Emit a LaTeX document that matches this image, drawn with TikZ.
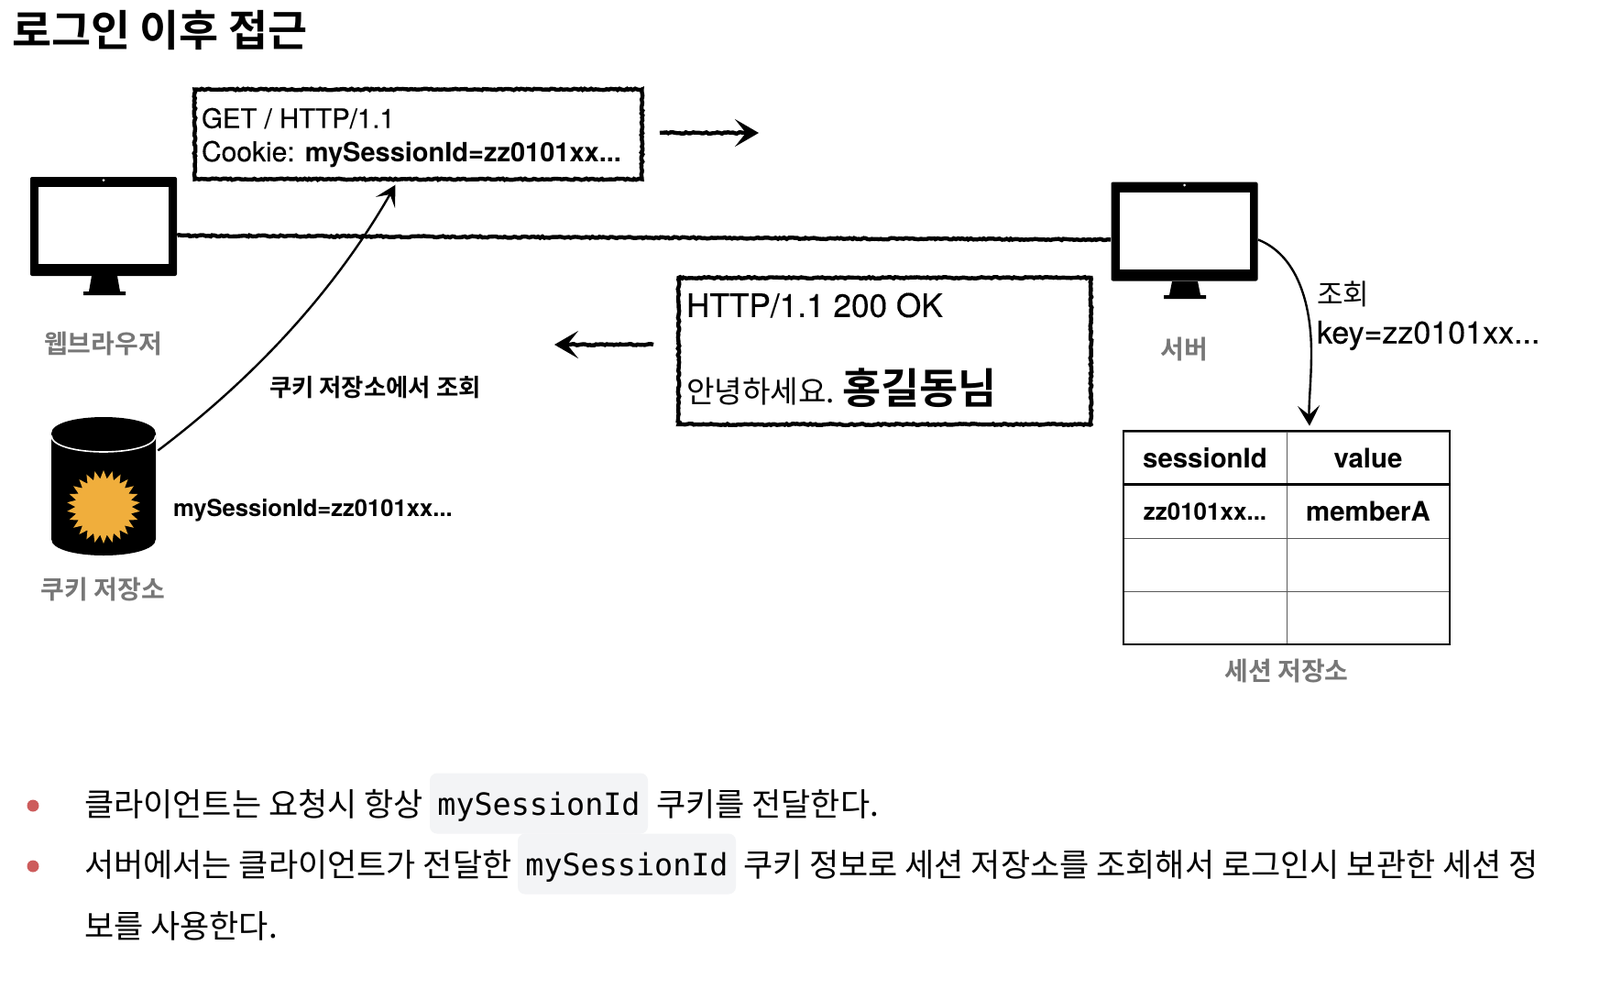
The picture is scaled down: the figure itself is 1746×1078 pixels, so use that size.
\documentclass[tikz,border=0pt]{standalone}
\usepackage{fontspec}
\usetikzlibrary{arrows.meta,decorations.pathmorphing,shapes.geometric}
\setmainfont{TeX Gyre Heros}
\newfontfamily\med[FakeBold=0.3]{TeX Gyre Heros}
\newfontfamily\kr{Noto Sans CJK KR}
\newfontfamily\krb{Noto Sans CJK KR Bold}
\newfontfamily\codefont{DejaVu Sans Mono}
\definecolor{chip}{HTML}{F3F4F6}
\definecolor{caption}{HTML}{777777}
\definecolor{bullet}{HTML}{CD5C5C}
\definecolor{burst}{HTML}{F0AE3C}
\newcommand{\fs}[1]{\fontsize{#1}{#1}\selectfont}
\tikzset{
  txt/.style={inner sep=0pt,outer sep=0pt,anchor=west,text=black},
  captxt/.style={inner sep=0pt,text=caption,font=\krb\fs{14}},
  rough/.style={decorate,decoration={random steps,segment length=1.2pt,amplitude=.4pt}},
  sketchbox/.style={draw=black,line width=2.2pt,rough,inner sep=0pt,fill=white},
  sketchline/.style={line width=2.2pt,rough},
  thinarrow/.style={line width=1.2pt,-{Stealth[length=11pt,width=12pt,inset=5pt]}},
  fatarrow/.style={line width=2.2pt,decorate,decoration={random steps,segment length=1.2pt,amplitude=.4pt,post length=8pt},-{Stealth[length=13pt,width=15pt,inset=6pt]}},
  monitor/.style={fill=black,rounded corners=1pt,minimum width=80pt,minimum height=54pt,inner sep=0pt},
  screen/.style={fill=white,minimum width=71pt,minimum height=42pt,inner sep=0pt},
  cell/.style={draw=black!65,line width=.5pt,minimum width=89pt,minimum height=29pt,inner sep=0pt,font=\bfseries\fs{14.7}},
  chipbox/.style={fill=chip,rounded corners=4pt,minimum width=119pt,minimum height=33pt,inner sep=0pt},
  bulletdot/.style={circle,fill=bullet,minimum size=6.5pt,inner sep=0pt},
  bodytxt/.style={txt,font=\kr\fs{17.5}},
  codetxt/.style={inner sep=0pt,font=\codefont\fs{16.7}},
}
\begin{document}
\begin{tikzpicture}[x=0.5pt,y=-0.5pt]
\useasboundingbox[fill=white] (0,0) rectangle (1746,1078);

\node[txt,font=\krb\fs{23.4}] (title) at (13,33) {로그인 이후 접근};

% client monitor
\node[monitor] (client) at (113,247) {};
\node[screen] (clientscreen) at (113,246) {};
\fill[white] (113,196.5) circle (1.5);
\fill (100,301) -- (128,301) -- (131,318) -- (137,318) -- (137,322) -- (91,322) -- (91,318) -- (97,318) -- cycle;
\node[captxt] (clientcap) at (112.5,375) {웹브라우저};

% server monitor
\node[monitor] (server) at (1292.5,252.5) {};
\node[screen] (serverscreen) at (1292.5,252) {};
\fill[white] (1292.5,202) circle (1.5);
\fill (1279,307) -- (1307,307) -- (1310,322) -- (1316,322) -- (1316,326) -- (1270,326) -- (1270,322) -- (1276,322) -- cycle;
\node[captxt] (servercap) at (1292,381) {서버};

% connection
\draw[sketchline] ([yshift=-5pt]client.east) -- ([yshift=-4.5pt]server.west);

% request
\node[sketchbox,minimum width=244pt,minimum height=49pt] (req) at (456.5,146.5) {};
\node[txt,font=\med\fs{14.7}] (req1) at (220,129) {GET / HTTP/1.1};
\node[txt,font=\med\fs{15}] (req2) at (220,168) {Cookie: {\normalfont\bfseries\fs{14.5}mySessionId=zz0101xx...}};
\coordinate (reqfrom) at (720,145);
\coordinate (reqto) at (828,145);
\draw[fatarrow] (reqfrom) -- (reqto);

% response
\node[sketchbox,minimum width=225pt,minimum height=80pt] (res) at (965.5,383) {};
\node[txt,font=\med\fs{17.6}] (res1) at (749,333) {HTTP/1.1 200 OK};
\node[txt,font=\kr\fs{16.6}] (res2) at (749,427) {안녕하세요.};
\node[txt,font=\krb\fs{22.9}] (res3) at (919,423) {홍길동님};
\coordinate (resfrom) at (713,376);
\coordinate (resto) at (605,376);
\draw[fatarrow] (resfrom) -- (resto);

% cookie store
\node[minimum width=57pt,minimum height=76.5pt,inner sep=0pt] (store) at (113,530.5) {};
\fill (56,473) .. controls (56,449) and (170,449) .. (170,473) -- (170,588) .. controls (170,612) and (56,612) .. (56,588) -- cycle;
\draw[white,line width=.8pt] (56,475) .. controls (56,499) and (170,499) .. (170,475);
\node[star,star points=26,star point ratio=1.3,fill=burst,minimum size=40pt,inner sep=0pt] (sun) at (113,553) {};
\node[captxt] (storecap) at (112.5,643) {쿠키 저장소};
\node[txt,font=\bfseries\fs{12.8}] (cookieval) at (189,557) {mySessionId=zz0101xx...};
\node[txt,font=\krb\fs{13.2}] (lookup) at (294,423) {쿠키 저장소에서 조회};
\draw[thinarrow] ([xshift=1pt,yshift=19.5pt]store.east) .. controls (300,395) and (378,295) .. ([xshift=-12.5pt,yshift=-2pt]req.south);

% session table
\node[cell] (h1) at (1315,500) {sessionId};
\node[cell] (h2) at (1493,500) {value};
\node[cell,font=\bfseries\fs{13}] (a1) at (1315,558) {zz0101xx...};
\node[cell] (a2) at (1493,558) {memberA};
\node[cell] (b1) at (1315,616) {};
\node[cell] (b2) at (1493,616) {};
\node[cell] (c1) at (1315,674) {};
\node[cell] (c2) at (1493,674) {};
\node[draw=black,line width=1.4pt,minimum width=178pt,minimum height=116.5pt,inner sep=0pt] (table) at (1404,586.5) {};
\draw[line width=1.2pt] ([yshift=.5pt]h1.south west) -- ([yshift=.5pt]h2.south east);
\node[captxt] (tablecap) at (1404,732) {세션 저장소};
\draw[thinarrow] ([yshift=-4.5pt]server.east) .. controls (1415,278) and (1431,330) .. (1431,385) .. controls (1431,415) and (1428,440) .. ([xshift=12.5pt,yshift=2pt]table.north);
\node[txt,font=\kr\fs{15.5}] (q1) at (1437,321) {조회};
\node[txt,font=\med\fs{17}] (q2) at (1437,366) {key=zz0101xx...};

% bullet list
\node[bulletdot] (d1) at (36,879) {};
\node[bulletdot] (d2) at (36,945) {};
\node[chipbox] (chip1) at (588,876.5) {};
\node[chipbox] (chip2) at (684,942.5) {};
\node[bodytxt] (l1a) at (92,877) {클라이언트는 요청시 항상};
\node[codetxt] (c1t) at (588,880) {mySessionId};
\node[bodytxt] (l1b) at (716,877) {쿠키를 전달한다.};
\node[bodytxt] (l2a) at (92,943) {서버에서는 클라이언트가 전달한};
\node[codetxt] (c2t) at (684,946) {mySessionId};
\node[bodytxt] (l2b) at (811,943) {쿠키 정보로 세션 저장소를 조회해서 로그인시 보관한 세션 정};
\node[bodytxt] (l3) at (92,1010) {보를 사용한다.};
\end{tikzpicture}
\end{document}
